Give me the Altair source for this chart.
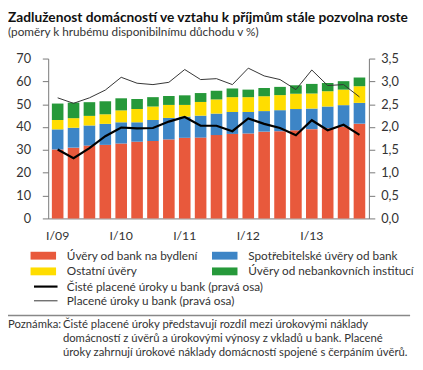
import altair as alt
import pandas as pd

FONT = "Lato"

quarters = ["I/09", "II/09", "III/09", "IV/09",
            "I/10", "II/10", "III/10", "IV/10",
            "I/11", "II/11", "III/11", "IV/11",
            "I/12", "II/12", "III/12", "IV/12",
            "I/13", "II/13", "III/13", "IV/13"]

housing = [30.2, 31.0, 31.9, 32.2, 32.8, 33.6, 33.9, 34.6, 35.3, 35.4,
           36.5, 37.0, 37.2, 38.0, 38.2, 38.6, 39.1, 39.5, 40.2, 41.5]
consumer = [8.8, 8.7, 8.8, 9.2, 9.3, 8.5, 9.2, 9.4, 9.3, 9.6,
            9.4, 9.6, 9.4, 9.0, 9.2, 9.3, 9.0, 9.5, 9.4, 9.1]
other = [4.1, 4.2, 4.2, 4.2, 5.2, 5.8, 5.9, 5.7, 5.1, 6.0,
         6.2, 6.5, 6.5, 6.5, 6.6, 6.7, 6.6, 6.7, 6.8, 7.3]
nonbank = [7.2, 6.8, 6.0, 5.7, 5.3, 4.4, 4.1, 3.9, 4.2, 3.9,
           3.8, 3.8, 3.3, 3.6, 3.6, 3.7, 4.2, 3.6, 3.7, 3.8]

net_interest = [1.51, 1.32, 1.54, 1.80, 1.99, 1.97, 1.98, 2.12, 2.22, 2.03,
                2.03, 1.91, 2.19, 2.07, 1.98, 1.82, 2.15, 1.93, 2.05, 1.83]
paid_interest = [2.64, 2.52, 2.64, 2.81, 3.09, 2.96, 2.93, 2.98, 3.26, 3.04,
                 3.06, 2.93, 3.29, 3.12, 3.04, 2.82, 3.25, 2.91, 2.93, 2.66]

categories = ["Úvěry od bank na bydlení", "Spotřebitelské úvěry od bank",
              "Ostatní úvěry", "Úvěry od nebankovních institucí"]
bar_colors = ["#E8593C", "#3D85C6", "#FFDD00", "#26993A"]

line_names = ["Čisté placené úroky u bank (pravá osa)",
              "Placené úroky u bank (pravá osa)"]
line_colors = ["#000000", "#333333"]
line_widths = [2.2, 1.0]

title_text = "Zadluženost domácností ve vztahu k příjmům stále pozvolna roste"
subtitle_text = "(poměry k hrubému disponibilnímu důchodu v %)"
note_label = "Poznámka:"
note_lines = [
    "Čisté placené úroky představují rozdíl mezi úrokovými náklady",
    "domácností z úvěrů a úrokovými výnosy z vkladů u bank. Placené",
    "úroky zahrnují úrokové náklady domácností spojené s čerpáním úvěrů.",
]

series = [housing, consumer, other, nonbank]
bar_rows = []
for i, q in enumerate(quarters):
    for k, cat in enumerate(categories):
        bar_rows.append({"q": q, "cat": cat, "k": k, "v": series[k][i]})
bars_df = pd.DataFrame(bar_rows)

line_rows = []
for i, q in enumerate(quarters):
    line_rows.append({"q": q, "s": line_names[0], "v": net_interest[i]})
    line_rows.append({"q": q, "s": line_names[1], "v": paid_interest[i]})
lines_df = pd.DataFrame(line_rows)

# plot origin on page: (49, 56)
OX, OY = 49, 56

x_enc = alt.X(
    "q:N", sort=quarters,
    scale=alt.Scale(paddingInner=0.27, paddingOuter=0.23),
    axis=alt.Axis(title=None, labelAngle=0, ticks=False, labelPadding=12,
                  labelExpr="indexof(datum.value, 'I/') == 0 ? datum.value : ''",
                  domainColor="#777777", labelFontSize=12.5, labelColor="#333333",
                  labelFont=FONT),
)

bars = alt.Chart(bars_df).mark_bar().encode(
    x=x_enc,
    y=alt.Y("v:Q", stack="zero", scale=alt.Scale(domain=[0, 70], nice=False),
            axis=alt.Axis(title=None, values=list(range(0, 71, 10)), grid=False,
                          tickSize=6, labelPadding=12, domainColor="#777777",
                          tickColor="#777777", labelFontSize=13,
                          labelColor="#333333", labelFont=FONT)),
    fill=alt.Fill("cat:N", scale=alt.Scale(domain=categories, range=bar_colors),
                  legend=alt.Legend(title=None, orient="none", direction="horizontal",
                                    legendX=38 - OX, legendY=251 - OY, columns=2,
                                    columnPadding=14, rowPadding=4,
                                    symbolType="M-2.6,-0.8H2.6V0.8H-2.6Z",
                                    symbolSize=100, symbolStrokeWidth=0,
                                    labelFont=FONT, labelFontSize=12, labelLimit=300,
                                    labelColor="#333333", labelOffset=18)),
    order=alt.Order("k:Q", sort="ascending"),
)

line_legend = alt.Legend(title=None, orient="none", direction="vertical",
                         legendX=40 - OX, legendY=282 - OY, rowPadding=2,
                         symbolType="M-2.4,0H2.4", symbolSize=100,
                         labelFont=FONT, labelFontSize=12, labelLimit=300,
                         labelColor="#333333", labelOffset=15)

lines = alt.Chart(lines_df).mark_line().encode(
    x=x_enc,
    y=alt.Y("v:Q", scale=alt.Scale(domain=[0, 3.5], nice=False),
            axis=alt.Axis(title=None, orient="right",
                          values=[0, 0.5, 1, 1.5, 2, 2.5, 3, 3.5], grid=False,
                          tickSize=6, labelPadding=6, domainColor="#777777",
                          tickColor="#777777", labelFontSize=13,
                          labelColor="#333333", labelFont=FONT,
                          labelExpr="replace(format(datum.value, '.1f'), '.', ',')")),
    stroke=alt.Stroke("s:N", scale=alt.Scale(domain=line_names, range=line_colors),
                      legend=line_legend),
    strokeWidth=alt.StrokeWidth("s:N", scale=alt.Scale(domain=line_names, range=line_widths),
                                legend=line_legend),
)

sep = alt.Chart(pd.DataFrame({"a": [0]})).mark_rule(color="#888888", strokeWidth=1.5).encode(
    x=alt.value(8 - OX), x2=alt.value(418 - OX), y=alt.value(318 - OY)
)

note_layers = [
    alt.Chart(pd.DataFrame({"t": [note_label]})).mark_text(
        align="left", baseline="middle", font=FONT, fontSize=11.5, color="#333333"
    ).encode(text="t:N", x=alt.value(8 - OX), y=alt.value(328 - OY))
]
for j, line in enumerate(note_lines):
    note_layers.append(
        alt.Chart(pd.DataFrame({"t": [line]})).mark_text(
            align="left", baseline="middle", font=FONT, fontSize=11.5, color="#333333"
        ).encode(text="t:N", x=alt.value(64 - OX), y=alt.value(328 + 14 * j - OY))
    )

chart = alt.layer(bars, lines, sep, *note_layers).resolve_scale(
    y="independent"
).properties(
    width=327, height=163,
    padding={"left": 41, "top": 48, "right": 47, "bottom": 151},
    autosize=alt.AutoSizeParams(type="none"),
    title=alt.TitleParams(text=title_text, subtitle=subtitle_text, anchor="start",
                          frame="group", dx=8 - OX, offset=15, font=FONT, fontSize=14,
                          fontWeight="bold", color="#111111",
                          subtitleFont=FONT, subtitleFontSize=12,
                          subtitleColor="#333333", subtitlePadding=2),
).configure_view(stroke=None)

chart.save("out.html", embed_options={"renderer": "svg", "actions": False})
